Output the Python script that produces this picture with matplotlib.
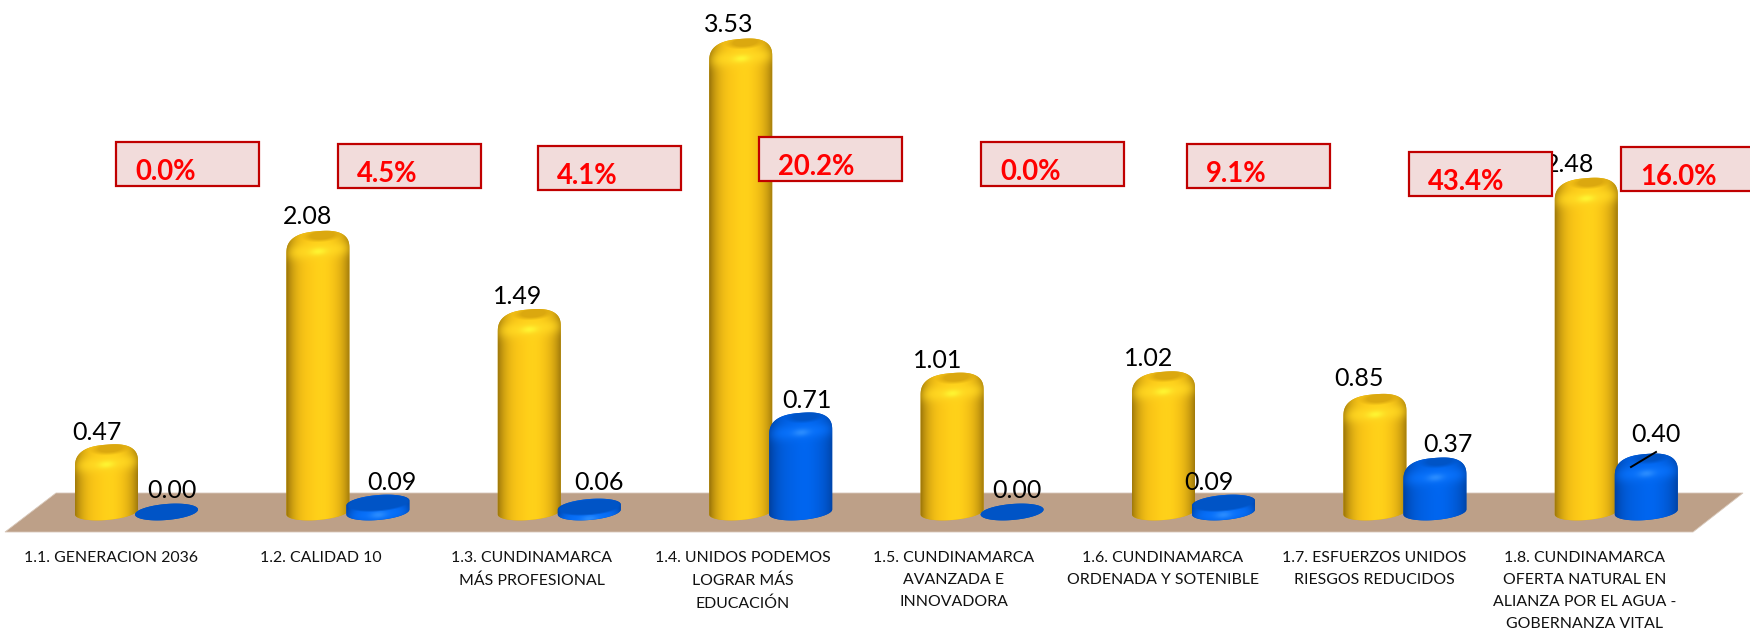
import numpy as np
import matplotlib
matplotlib.use("Agg")
import matplotlib.pyplot as plt
from matplotlib.patches import Polygon, PathPatch, Rectangle
from matplotlib.path import Path

# ---------- data ----------
categories = [
    "1.1. GENERACION 2036",
    "1.2. CALIDAD 10",
    "1.3. CUNDINAMARCA\nMÁS PROFESIONAL",
    "1.4. UNIDOS PODEMOS\nLOGRAR MÁS\nEDUCACIÓN",
    "1.5. CUNDINAMARCA\nAVANZADA E\nINNOVADORA",
    "1.6. CUNDINAMARCA\nORDENADA Y SOTENIBLE",
    "1.7. ESFUERZOS UNIDOS\nRIESGOS REDUCIDOS",
    "1.8. CUNDINAMARCA\nOFERTA NATURAL EN\nALIANZA POR EL AGUA -\nGOBERNANZA VITAL",
]
programado = [0.47, 2.08, 1.49, 3.53, 1.01, 1.02, 0.85, 2.48]
ejecutado = [0.00, 0.09, 0.06, 0.71, 0.00, 0.09, 0.37, 0.40]
porcentaje = ["0.0%", "4.5%", "4.1%", "20.2%", "0.0%", "9.1%", "43.4%", "16.0%"]

# ---------- layout (figure pixels) ----------
W, H = 1750, 630
X0, DX = 106.5, 211.4      # first yellow centre, group pitch
BASE, UNIT = 512.0, 132.6  # pixel y of value 0, pixels per unit
BLUE_OFF = 60.0 / DX
HALF = 31.5 / DX
RY = 8.0 / UNIT
TOP_GAP = 5.0 / UNIT
DISC_LIMIT = 0.15

box_left = [116, 338, 538, 759, 981, 1187, 1409, 1621]
box_top = [142, 144, 146, 137, 142, 144, 152, 147]
y_label_px = [432, 491, 216, 482, 296, 483, 24, 400, 360, 491, 358, 482, 379, 445, 165, 435]
x_label_px = [97, 172, 308, 392, 518, 599, 729, 807, 938, 1017, 1149, 1209, 1359, 1448, 1570, 1656]
cat_x_px = [111, 321, 532, 743, 954, 1163, 1374, 1585]

YELLOW = dict(edge=(0.62, 0.47, 0.04), mid=(0.99, 0.78, 0.09), peak=(1.0, 0.82, 0.10),
              cap=(0.86, 0.66, 0.06), glow=(1.0, 0.97, 0.20), band=(1.0, 0.84, 0.13))
BLUE = dict(edge=(0.0, 0.26, 0.64), mid=(0.0, 0.38, 0.90), peak=(0.0, 0.40, 0.94),
            cap=(0.0, 0.33, 0.78), glow=(0.18, 0.56, 1.0), band=(0.03, 0.44, 0.98))

plt.rcParams["font.family"] = ["Lato", "DejaVu Sans"]
fig = plt.figure(figsize=(W / 100, H / 100), dpi=100)
ax = fig.add_axes([0, 0, 1, 1])
ax.axis("off")


def px_x(p):
    return (p - X0) / DX


def px_y(p):
    return (BASE - p) / UNIT


xlim = (px_x(0), px_x(W))
ylim = (px_y(H), px_y(0))


def top_of(v):
    return v + TOP_GAP if v > 0 else RY


def outline(cx, v):
    """Silhouette of a bevelled cylinder in data coordinates."""
    top = top_of(v)
    if v < DISC_LIMIT:
        shoulder = top - RY
        n = 1.0
    else:
        shoulder = max(top - 20.0 / UNIT, 0.0)
        n = 0.76
    h = top - shoulder
    tilt = 2.5 / UNIT
    t = np.linspace(0, np.pi, 70)
    xt = np.sign(np.cos(t)) * np.abs(np.cos(t)) ** n
    yt = shoulder + h * np.abs(np.sin(t)) ** n + tilt * xt
    t2 = np.linspace(np.pi, 2 * np.pi, 40)
    xb = np.cos(t2)
    yb = RY * np.sin(t2) + tilt * xb
    xs = np.r_[xt, xb]
    ys = np.r_[yt, yb]
    return np.c_[cx + HALF * xs, ys]


def shade(v, c):
    """Cylinder shading from the horizontal position and the distance below the top."""
    top = top_of(v)
    top_v = top + 5.0 / UNIT
    bot_v = -RY - 4.0 / UNIT
    rows = max(int((top_v - bot_v) * UNIT), 4)
    cols = 70
    u = np.linspace(-1.05, 1.05, cols)[None, :]
    yy = np.linspace(top_v, bot_v, rows)[:, None]
    a = np.clip(np.abs(u), 0, 1) ** 3.4
    img = np.zeros((rows, cols, 3))
    d = (top - yy) * UNIT + 2.5 * u
    band = np.exp(-((d - 19) / 8.0) ** 2) * np.exp(-(u / 0.95) ** 4)
    glow = np.exp(-((d - 20) / 3.6) ** 2 - (u / 0.26) ** 2) * 0.9
    if v == 0:
        capm = np.ones_like(d)
    elif v < DISC_LIMIT:
        capm = np.clip(1.05 - np.sqrt((u / 0.99) ** 2 + ((d - 8) / 8.0) ** 2), 0, 0.12) / 0.12
    else:
        capm = np.clip(1.1 - np.sqrt(((u - 0.12) / 0.62) ** 2 + ((d - 4) / 6.5) ** 2), 0, 0.5) / 0.5
    for k in range(3):
        body = c["mid"][k] + (c["peak"][k] - c["mid"][k]) * np.exp(-((u - 0.1) / 0.35) ** 2)
        ch = body * (1 - a) + c["edge"][k] * a
        ch = ch * (1 - band) + c["band"][k] * band
        ch = ch * (1 - glow) + c["glow"][k] * glow
        ch = ch * (1 - capm) + c["cap"][k] * capm
        img[:, :, k] = ch
    return img, (top_v, bot_v)


def bar3d(cx, v, colours, z):
    pts = outline(cx, v)
    patch = PathPatch(Path(np.r_[pts, pts[:1]], closed=True), fc=colours["cap"], ec="none", zorder=z)
    ax.add_patch(patch)
    img, (t, b) = shade(v, colours)
    im = ax.imshow(img, extent=(cx - HALF * 1.05, cx + HALF * 1.05, b, t), origin="upper",
                   aspect="auto", interpolation="bilinear", zorder=z + 0.1)
    im.set_clip_path(patch)


# floor
ax.add_patch(Polygon([(px_x(5), px_y(532)), (px_x(56), px_y(493)),
                      (px_x(1743), px_y(493)), (px_x(1693), px_y(532))],
                     closed=True, fc="#BDA088", ec="#D8C8BA", lw=0.6, zorder=1))

for i, (a_v, b_v) in enumerate(zip(programado, ejecutado)):
    bar3d(i, a_v, YELLOW, 2 + i * 0.5)
    bar3d(i + BLUE_OFF, b_v, BLUE, 2.2 + i * 0.5)

# value labels
values = [val for pair in zip(programado, ejecutado) for val in pair]
for val, xp, yp in zip(values, x_label_px, y_label_px):
    ax.text(px_x(xp), px_y(yp), f"{val:.2f}", ha="center", va="center",
            fontsize=18, color="black", zorder=8)

# leader line of the last blue label
ax.plot([px_x(1631), px_x(1656)], [px_y(467), px_y(452)], color="black", lw=1.4, zorder=8)

# category labels
for cat, xp in zip(categories, cat_x_px):
    ax.text(px_x(xp), px_y(551), cat, ha="center", va="top", fontsize=11.4,
            color="#111111", linespacing=1.74, zorder=8)

# percentage boxes
for pct, lx, ty in zip(porcentaje, box_left, box_top):
    ax.add_patch(Rectangle((px_x(lx), px_y(ty + 44)), 143 / DX, 44 / UNIT, fc="#F2DCDB",
                           ec="#C00000", lw=1.6, zorder=9, clip_on=False))
    ax.text(px_x(lx + 19), px_y(ty + 30), pct, ha="left", va="center", fontsize=19.8,
            fontweight="bold", color="#FF0000", zorder=10)

ax.set_xlim(*xlim)
ax.set_ylim(*ylim)
fig.savefig("out.png", dpi=100, facecolor="white")
